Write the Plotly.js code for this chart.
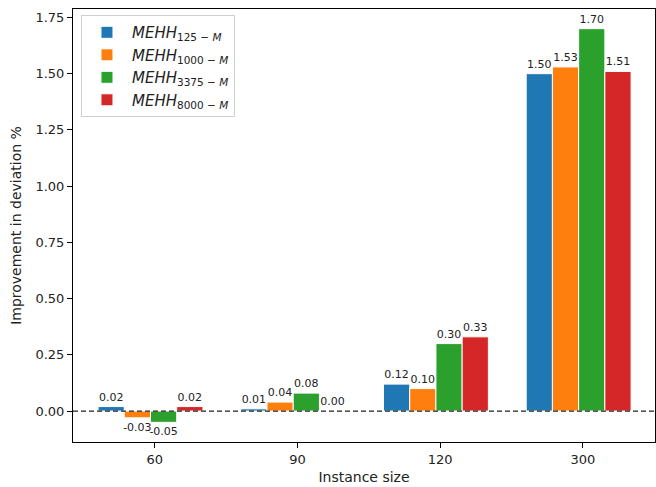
<!DOCTYPE html>
<html>
<head>
<meta charset="utf-8">
<script src="https://cdn.plot.ly/plotly-3.0.1.min.js"></script>
<style>html,body{margin:0;padding:0;background:#fff}#chart{width:656px;height:487px}</style>
</head>
<body>
<div id="chart"></div>
<script>
const categories = ["60", "90", "120", "300"];
const seriesNames = ["<i>MEHH</i><sub>125 − <i>M</i></sub>", "<i>MEHH</i><sub>1000 − <i>M</i></sub>", "<i>MEHH</i><sub>3375 − <i>M</i></sub>", "<i>MEHH</i><sub>8000 − <i>M</i></sub>"];
const mehh125 = [0.02, 0.01, 0.12, 1.50];
const mehh1000 = [-0.03, 0.04, 0.10, 1.53];
const mehh3375 = [-0.05, 0.08, 0.30, 1.70];
const mehh8000 = [0.02, 0.00, 0.33, 1.51];
const colors = ["#1f77b4", "#ff7f0e", "#2ca02c", "#d62728"];
const allSeries = [mehh125, mehh1000, mehh3375, mehh8000];

const idx = categories.map((c, i) => i);
const traces = allSeries.map((vals, s) => ({
  type: "bar",
  x: idx,
  y: vals,
  name: seriesNames[s],
  marker: {color: colors[s], line: {color: "#ffffff", width: 1}},
  text: vals.map(v => v.toFixed(2)),
  textposition: "outside",
  textfont: {family: "DejaVu Sans", size: 11, color: "#222"},
  constraintext: "none",
  cliponaxis: false,
  hoverinfo: "skip"
}));

const layout = {
  width: 656, height: 487,
  margin: {l: 73, r: 1, t: 9, b: 45},
  paper_bgcolor: "#fff", plot_bgcolor: "#fff",
  barmode: "group",
  bargap: 0.265,
  bargroupgap: 0,
  font: {family: "DejaVu Sans", size: 13, color: "#222"},
  xaxis: {
    range: [-0.543, 3.535],
    tickvals: idx.map(i => i + 0.03),
    ticktext: categories,
    showline: true, linecolor: "#000", linewidth: 1, mirror: true,
    ticks: "outside", ticklen: 5, tickcolor: "#000",
    showgrid: false, zeroline: false,
    title: {text: "Instance size", font: {size: 14}, standoff: 6},
    tickfont: {size: 13}
  },
  yaxis: {
    range: [-0.1375, 1.7875],
    tickvals: [0, 0.25, 0.5, 0.75, 1.0, 1.25, 1.5, 1.75],
    tickformat: ".2f",
    showline: true, linecolor: "#000", linewidth: 1, mirror: true,
    ticks: "outside", ticklen: 5, tickcolor: "#000",
    showgrid: false, zeroline: false,
    title: {text: "Improvement in deviation %", font: {size: 14}, standoff: 10},
    tickfont: {size: 13}
  },
  shapes: [{
    type: "line", xref: "paper", x0: 0, x1: 1, yref: "y", y0: 0, y1: 0,
    line: {color: "#222", width: 1.3, dash: "5px,3px"}
  }],
  legend: {
    x: 0.0137, y: 0.986, xanchor: "left", yanchor: "top",
    bgcolor: "rgba(255,255,255,0.8)", bordercolor: "#d0d0d0", borderwidth: 1,
    font: {family: "DejaVu Sans", size: 15, color: "#222"},
    itemwidth: 40
  },
  showlegend: true
};

Plotly.newPlot("chart", traces, layout, {displayModeBar: false, staticPlot: true});
</script>
</body>
</html>
